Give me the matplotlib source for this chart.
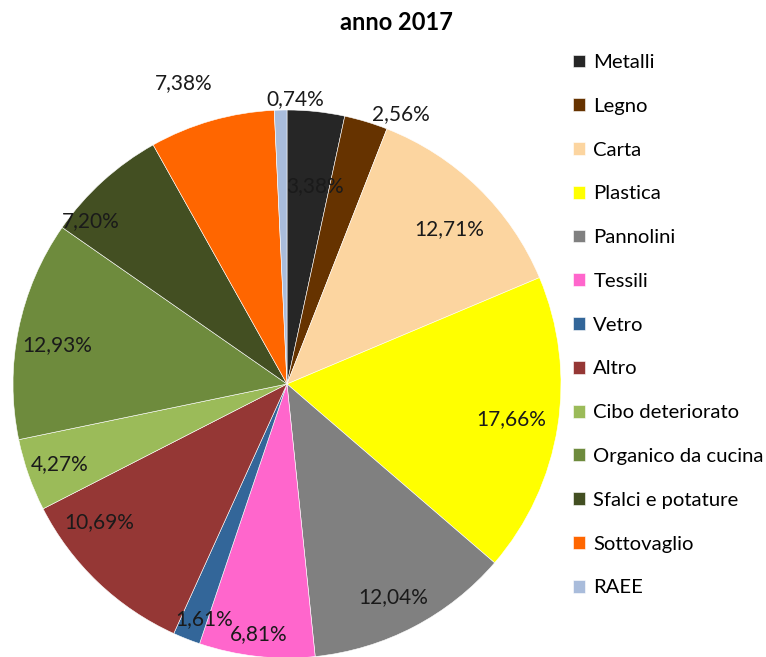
import numpy as np
import matplotlib
matplotlib.use("Agg")
import matplotlib.pyplot as plt

plt.rcParams['font.family'] = ['Lato', 'DejaVu Sans']

# dati anno 2017
categorie = ['Metalli', 'Legno', 'Carta', 'Plastica', 'Pannolini', 'Tessili', 'Vetro',
             'Altro', 'Cibo deteriorato', 'Organico da cucina', 'Sfalci e potature',
             'Sottovaglio', 'RAEE']
percentuali = [3.38, 2.56, 12.71, 17.66, 12.04, 6.81, 1.61,
               10.69, 4.27, 12.93, 7.20, 7.38, 0.74]
colori = ['#262626', '#663300', '#FCD5A0', '#FFFF00', '#808080', '#FF66CC', '#336699',
          '#953735', '#9BBB59', '#6E8B3D', '#434F22', '#FF6600', '#A9BCDB']

# label placement (radius factor, angle offset in deg) - mimics excel "best fit"
label_pos = [(0.73, -2), (1.07, -6), (0.82, -2), (0.83, 0), (0.87, -1), (0.92, 0),
             (0.91, 2), (0.85, -10), (0.88, 0), (0.85, 2), (0.93, 8), (1.16, 3), (1.04, -3)]

fig = plt.figure(figsize=(7.66, 6.57), dpi=100)
ax = fig.add_axes([13/766, -1/657, 548/766, 548/657])

wedges, _ = ax.pie(percentuali, colors=colori, startangle=90, counterclock=False,
                   radius=1, wedgeprops=dict(linewidth=0.4, edgecolor='white'))
ax.set_xlim(-1, 1)
ax.set_ylim(-1, 1)

tot = sum(percentuali)
cum = 0
for w, v, (rf, da) in zip(wedges, percentuali, label_pos):
    mid = 90 - (cum + v / 2) / tot * 360 + da
    cum += v
    x = rf * np.cos(np.radians(mid))
    y = rf * np.sin(np.radians(mid))
    ax.text(x, y, ('%.2f%%' % v).replace('.', ','), ha='center', va='center',
            fontsize=15, color='#1a1a1a', clip_on=False)

fig.text(396/766, 1 - 23/657, 'anno 2017', ha='center', va='center',
         fontsize=17, fontweight='bold')

fig.legend(wedges, categorie, loc='upper left', bbox_to_anchor=(565/766, 1 - 46/657),
           frameon=False, fontsize=14.6, handlelength=0.6, handleheight=0.6,
           handletextpad=0.4, labelspacing=1.32, borderaxespad=0)

fig.savefig('out.png', dpi=100)
